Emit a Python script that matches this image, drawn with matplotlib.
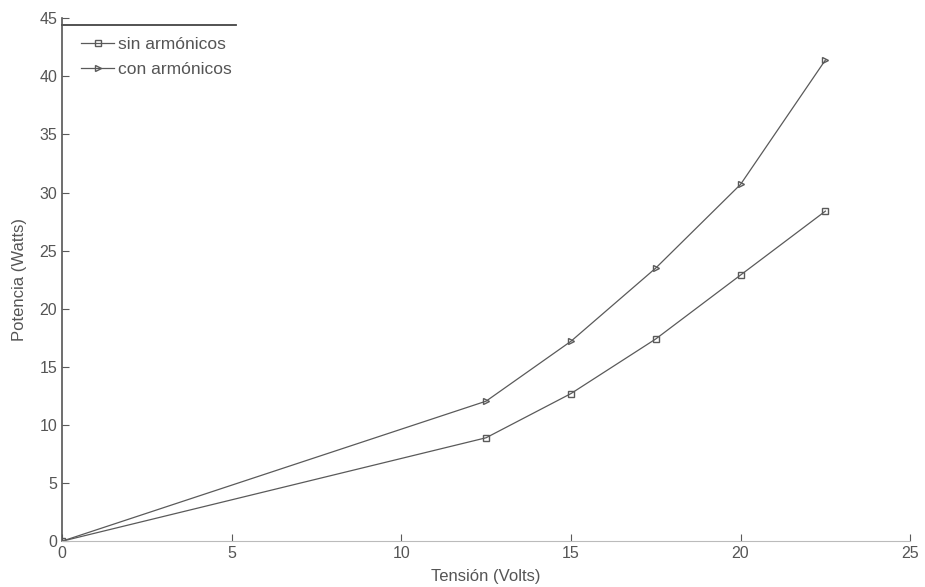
import matplotlib
matplotlib.use('Agg')
import matplotlib.pyplot as plt

# Tension values (Volts)
tension = [0, 12.5, 15, 17.5, 20, 22.5]
# Power without harmonics (Watts)
sin_armonicos = [0, 8.9, 12.7, 17.4, 22.9, 28.4]
# Power with harmonics (Watts)
con_armonicos = [0, 12.05, 17.2, 23.5, 30.7, 41.4]

x_ticks = [0, 5, 10, 15, 20, 25]
y_ticks = [0, 5, 10, 15, 20, 25, 30, 35, 40, 45]

plt.rcParams['font.family'] = ['Liberation Sans', 'DejaVu Sans']

fig = plt.figure(figsize=(9.25, 5.87), dpi=100)
ax = fig.add_axes([0.067, 0.078, 0.917, 0.891])

line_col = '#5a5a5a'
text_col = '#555555'

ax.plot(tension, sin_armonicos, color=line_col, lw=0.9, marker='s', ms=4,
        mfc='none', mec=line_col, mew=1.0, label='sin armónicos')
ax.plot(tension, con_armonicos, color=line_col, lw=0.9, marker='>', ms=4,
        mfc='none', mec=line_col, mew=1.0, label='con armónicos')

ax.set_xlim(0, 25)
ax.set_ylim(0, 45)
ax.set_xticks(x_ticks)
ax.set_yticks(y_ticks)
ax.tick_params(direction='in', length=5, colors=line_col, labelcolor=text_col,
               labelsize=11.5)

for side in ['top', 'right']:
    ax.spines[side].set_visible(False)
ax.spines['left'].set_color('#555555')
ax.spines['bottom'].set_color('#bbbbbb')
ax.spines['left'].set_linewidth(1.2)

ax.set_xlabel('Tensión (Volts)', color=text_col, fontsize=12, labelpad=6)
ax.set_ylabel('Potencia (Watts)', color=text_col, fontsize=12, labelpad=9)

# legend box: only its top edge is visible in the scan
leg = ax.legend(loc='upper left', frameon=False, fontsize=12.5, handlelength=1.9,
                handletextpad=0.2, borderaxespad=0.35, borderpad=0.75,
                labelspacing=0.55)
for t in leg.get_texts():
    t.set_color(text_col)
ax.plot([0, 0.205], [0.987, 0.987], transform=ax.transAxes, color='#444444',
        lw=1.3, clip_on=False)

fig.savefig('out.png', dpi=100)
